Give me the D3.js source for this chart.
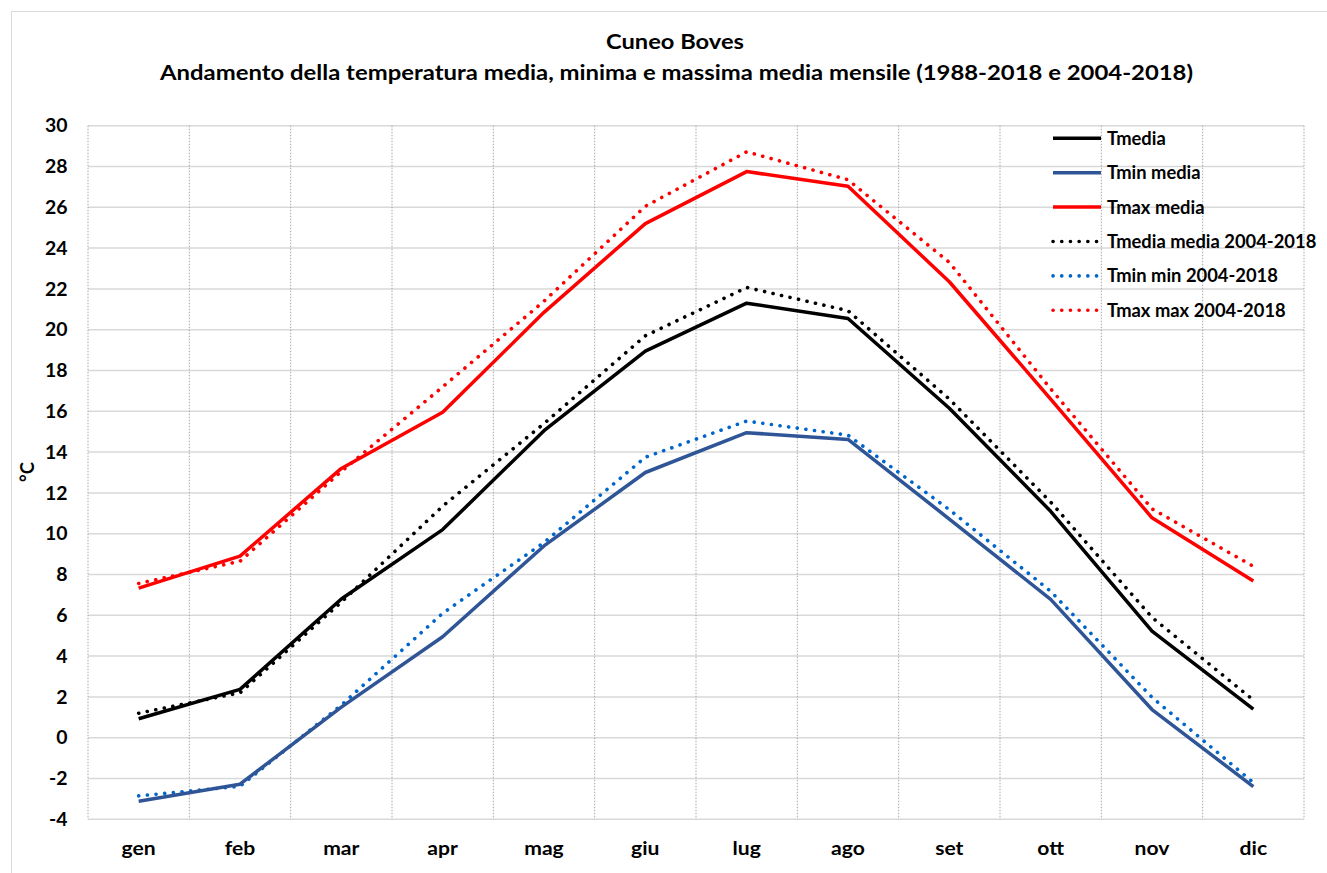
<!DOCTYPE html>
<html>
<head>
<meta charset="utf-8">
<script src="https://cdn.jsdelivr.net/npm/d3@7"></script>
<style>
  html, body { margin: 0; padding: 0; background: #fff; }
  svg { display: block; font-family: Lato, "Open Sans", sans-serif; font-weight: 700; }
</style>
</head>
<body>
<svg id="chart" width="1327" height="873"></svg>
<script>
// Monthly temperatures, Cuneo Boves (°C)
const months = ["gen", "feb", "mar", "apr", "mag", "giu", "lug", "ago", "set", "ott", "nov", "dic"];
const tMedia      = [0.93, 2.37, 6.8, 10.2, 15.05, 18.95, 21.3, 20.55, 16.15, 11.1, 5.22, 1.4];
const tMinMedia   = [-3.12, -2.28, 1.5, 4.95, 9.4, 13.0, 14.95, 14.62, 10.72, 6.78, 1.38, -2.4];
const tMaxMedia   = [7.33, 8.9, 13.2, 15.95, 20.85, 25.2, 27.75, 27.03, 22.35, 16.6, 10.78, 7.68];
const tMedia0418  = [1.2, 2.2, 6.65, 11.35, 15.4, 19.7, 22.07, 20.93, 16.6, 11.55, 5.9, 1.85];
const tMin0418    = [-2.85, -2.38, 1.6, 6.1, 9.57, 13.75, 15.52, 14.83, 11.18, 7.18, 1.98, -2.2];
const tMax0418    = [7.56, 8.65, 13.05, 17.2, 21.4, 26.05, 28.72, 27.35, 23.3, 17.1, 11.22, 8.4];
const yTicks = [-4, -2, 0, 2, 4, 6, 8, 10, 12, 14, 16, 18, 20, 22, 24, 26, 28, 30];

const series = [
  { name: "Tmedia",                 values: tMedia,     color: "#000000", dotted: false },
  { name: "Tmin media",             values: tMinMedia,  color: "#2F5597", dotted: false },
  { name: "Tmax media",             values: tMaxMedia,  color: "#FF0000", dotted: false },
  { name: "Tmedia media 2004-2018", values: tMedia0418, color: "#000000", dotted: true },
  { name: "Tmin min 2004-2018",     values: tMin0418,   color: "#0066CC", dotted: true },
  { name: "Tmax max 2004-2018",     values: tMax0418,   color: "#FF0000", dotted: true }
];

const svg = d3.select("#chart");
const plot = { left: 88, right: 1304, top: 125.7, bottom: 819.3 };

// widen a text's glyphs horizontally by factor k
function widen(sel, k) {
  sel.each(function () {
    const w = this.getComputedTextLength();
    d3.select(this).attr("textLength", w * k).attr("lengthAdjust", "spacingAndGlyphs");
  });
}

// outer chart frame
svg.append("rect")
  .attr("x", 11.5).attr("y", 11.5)
  .attr("width", 1330).attr("height", 880)
  .attr("fill", "none").attr("stroke", "#D9D9D9").attr("stroke-width", 1);

const x = d3.scaleBand().domain(months).range([plot.left, plot.right]).padding(0);
const xc = m => x(m) + x.bandwidth() / 2;
const y = d3.scaleLinear().domain([-4, 30]).range([plot.bottom, plot.top]);

// horizontal gridlines
svg.append("g").selectAll("line").data(yTicks).join("line")
  .attr("x1", plot.left).attr("x2", plot.right)
  .attr("y1", d => y(d)).attr("y2", d => y(d))
  .attr("stroke", "#D9D9D9").attr("stroke-width", 1.5);

// vertical dotted gridlines at month boundaries
const bounds = months.map(m => x(m)).concat([plot.right]);
svg.append("g").selectAll("line").data(bounds).join("line")
  .attr("x1", d => d).attr("x2", d => d)
  .attr("y1", plot.top).attr("y2", plot.bottom)
  .attr("stroke", "#A6A6A6").attr("stroke-width", 1)
  .attr("stroke-dasharray", "1.5 1.5");

// y axis labels
svg.append("g").selectAll("text").data(yTicks).join("text")
  .attr("x", 67.5).attr("y", d => y(d))
  .attr("dy", "0.36em")
  .attr("text-anchor", "end")
  .attr("font-size", 18.5).attr("fill", "#000")
  .text(d => d)
  .call(widen, 1.05);

// x axis labels
svg.append("g").selectAll("text").data(months).join("text")
  .attr("x", d => xc(d)).attr("y", 855)
  .attr("text-anchor", "middle")
  .attr("font-size", 18.5).attr("fill", "#000")
  .text(d => d)
  .call(widen, 1.14);

// y axis title
svg.append("text")
  .attr("transform", "translate(34,472) rotate(-90)")
  .attr("text-anchor", "middle")
  .attr("font-size", 18.5).attr("fill", "#000")
  .text("°C");

// title
svg.append("text")
  .attr("x", 675).attr("y", 49)
  .attr("text-anchor", "middle")
  .attr("font-size", 20).attr("fill", "#000")
  .text("Cuneo Boves")
  .attr("textLength", 138).attr("lengthAdjust", "spacingAndGlyphs");
svg.append("text")
  .attr("x", 676.5).attr("y", 80)
  .attr("text-anchor", "middle")
  .attr("font-size", 20).attr("fill", "#000")
  .text("Andamento della temperatura media, minima e massima media mensile (1988-2018 e 2004-2018)")
  .attr("textLength", 1033).attr("lengthAdjust", "spacingAndGlyphs");

// series lines
const line = d3.line().x((d, i) => xc(months[i])).y(d => y(d));
const styleLine = (sel, s) => {
  sel.attr("fill", "none").attr("stroke", s.color)
    .attr("stroke-linejoin", "round");
  if (s.dotted) {
    sel.attr("stroke-width", 3.6).attr("stroke-linecap", "round")
      .attr("stroke-dasharray", "0.1 8.6");
  } else {
    sel.attr("stroke-width", 3.5).attr("stroke-linecap", "butt");
  }
};
const drawOrder = [5, 4, 3, 2, 1, 0];
drawOrder.forEach(i => {
  const s = series[i];
  svg.append("path").datum(s.values).attr("d", line).call(styleLine, s);
});

// legend
const legY0 = 138.3, legStep = 34.4;
const leg = svg.append("g");
series.forEach((s, i) => {
  const ly = legY0 + i * legStep;
  leg.append("line")
    .attr("x1", 1053).attr("x2", 1101).attr("y1", ly).attr("y2", ly)
    .call(styleLine, s);
  leg.append("text")
    .attr("x", 1107).attr("y", ly).attr("dy", "0.36em")
    .attr("font-size", 18).attr("fill", "#000")
    .text(s.name)
    .call(widen, 1.02);
});
</script>
</body>
</html>
